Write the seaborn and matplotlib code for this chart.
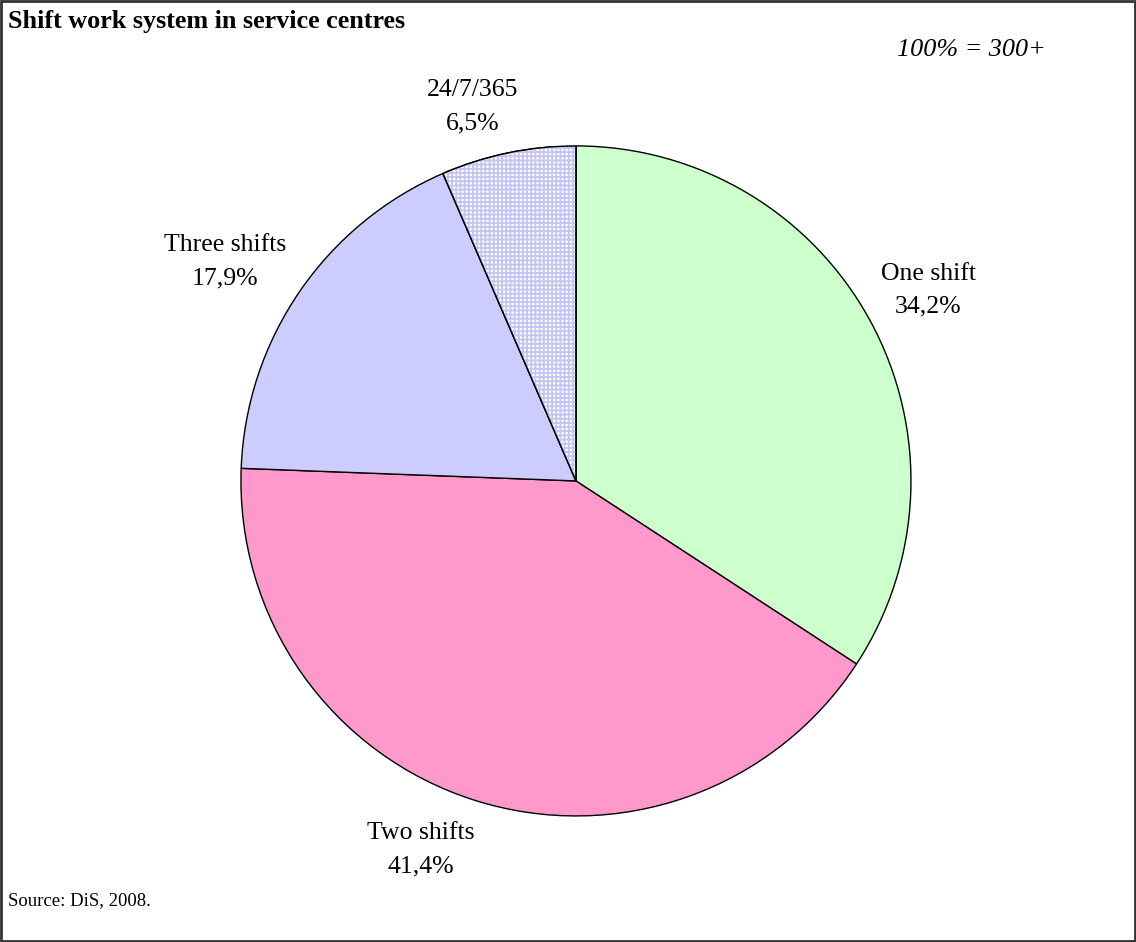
import matplotlib
matplotlib.use("Agg")
import matplotlib.pyplot as plt
import matplotlib.patches as mpatches
import numpy as np
import seaborn as sns

# data
categories = ["One shift", "Two shifts", "Three shifts", "24/7/365"]
shares = [34.2, 41.4, 17.9, 6.5]
colors = ["#CCFFCC", "#FF99CC", "#CCCCFF", "#FFFFFF"]

sns.set_theme(style="white")
plt.rcParams['font.family'] = ['Liberation Serif', 'DejaVu Serif']
plt.rcParams['text.color'] = 'black'
plt.rcParams['hatch.linewidth'] = 1.3

fig = plt.figure(figsize=(11.36, 9.42), dpi=100)
ax = fig.add_axes([0.2121, 0.1338, 0.5898, 0.7113])

wedges, _ = ax.pie(shares, colors=colors, startangle=90, counterclock=False,
                   wedgeprops=dict(edgecolor='black', linewidth=1.0))
ax.set_xlim(-1, 1)
ax.set_ylim(-1, 1)
ax.set_aspect('equal')
ax.axis('off')

# dotted fill for the 24/7/365 slice
w = wedges[3]
hw = mpatches.Wedge(w.center, w.r, w.theta1, w.theta2, fill=False,
                    hatch='++++', edgecolor='#C4C4F2', linewidth=0)
ax.add_patch(hw)
outline = mpatches.Wedge(w.center, w.r, w.theta1, w.theta2, fill=False,
                         edgecolor='black', linewidth=1.0)
ax.add_patch(outline)

# labels (distance from centre, angle nudge)
dist = [1.196, 1.195, 1.235, 1.158]
shift = [0, -5.2, 2.4, 3.7]
for wd, name, val, d, s in zip(wedges, categories, shares, dist, shift):
    th = np.deg2rad((wd.theta1 + wd.theta2) / 2 + s)
    ax.text(d*np.cos(th), d*np.sin(th),
            name + "\n" + f"{val:.1f}%".replace(".", ","),
            ha='center', va='center', fontsize=18.5, linespacing=1.65,
            color='black')

fig.text(0.007, 0.977, "Shift work system in service centres", fontsize=18.8,
         fontweight='bold', ha='left', va='center', color='black')
fig.text(0.855, 0.947, "100% = 300+", fontsize=18.8, style='italic',
         ha='center', va='center', color='black')
fig.text(0.007, 0.044, "Source: DiS, 2008.", fontsize=13.5, ha='left',
         va='center', color='black')

fig.patches.append(mpatches.Rectangle((0.001, 0.001), 0.998, 0.998,
                                      transform=fig.transFigure, fill=False,
                                      edgecolor='#333333', linewidth=2))

fig.savefig("out.png", dpi=100)
